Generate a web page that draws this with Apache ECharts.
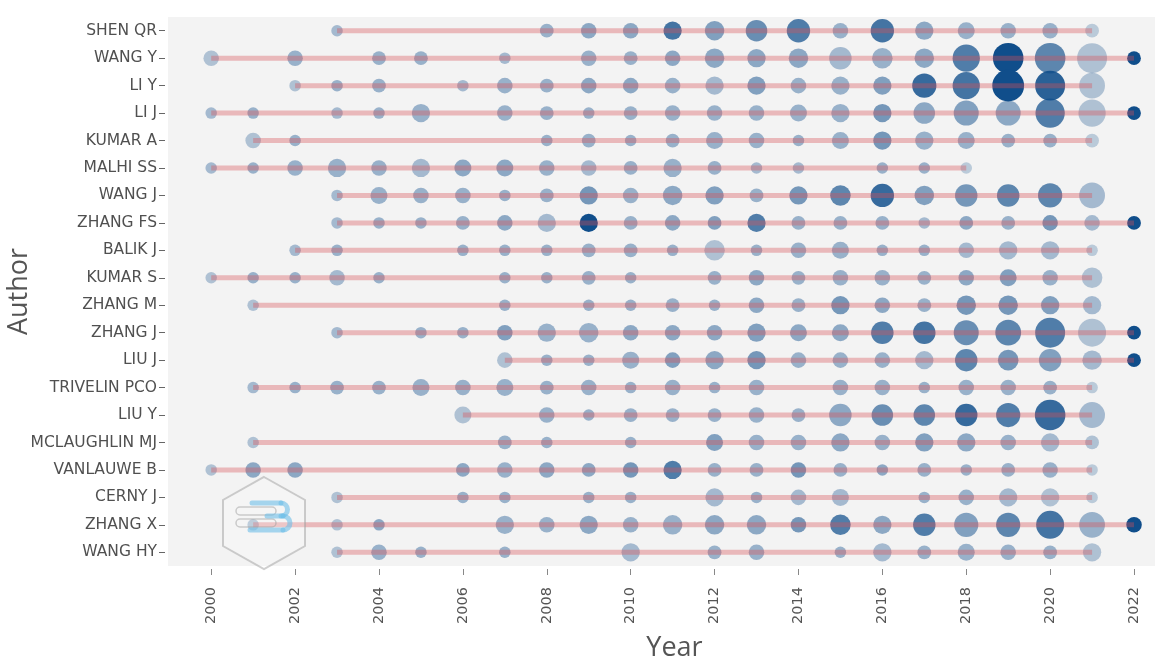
<!DOCTYPE html>
<html>
<head>
<meta charset="utf-8">
<title>Authors' Production over Time</title>
<script src="https://cdn.jsdelivr.net/npm/echarts@6/dist/echarts.min.js"></script>
<style>
  html, body { margin: 0; padding: 0; background: #fff; }
  #chart { width: 1168px; height: 660px; }
</style>
</head>
<body>
<div id="chart"></div>
<script>
// authors, top to bottom
const authors = [
  'SHEN QR', 'WANG Y', 'LI Y', 'LI J', 'KUMAR A', 'MALHI SS', 'WANG J',
  'ZHANG FS', 'BALIK J', 'KUMAR S', 'ZHANG M', 'ZHANG J', 'LIU J',
  'TRIVELIN PCO', 'LIU Y', 'MCLAUGHLIN MJ', 'VANLAUWE B', 'CERNY J',
  'ZHANG X', 'WANG HY'
]

const yearTicks = [2000, 2002, 2004, 2006, 2008, 2010, 2012, 2014, 2016, 2018, 2020, 2022]

// publication years per author (same order as authors)
const pubYears = [
  [2003, 2008, 2009, 2010, 2011, 2012, 2013, 2014, 2015, 2016, 2017, 2018, 2019, 2020, 2021],
  [2000, 2002, 2004, 2005, 2007, 2009, 2010, 2011, 2012, 2013, 2014, 2015, 2016, 2017, 2018, 2019, 2020, 2021, 2022],
  [2002, 2003, 2004, 2006, 2007, 2008, 2009, 2010, 2011, 2012, 2013, 2014, 2015, 2016, 2017, 2018, 2019, 2020, 2021],
  [2000, 2001, 2003, 2004, 2005, 2007, 2008, 2009, 2010, 2011, 2012, 2013, 2014, 2015, 2016, 2017, 2018, 2019, 2020, 2021, 2022],
  [2001, 2002, 2008, 2009, 2010, 2011, 2012, 2013, 2014, 2015, 2016, 2017, 2018, 2019, 2020, 2021],
  [2000, 2001, 2002, 2003, 2004, 2005, 2006, 2007, 2008, 2009, 2010, 2011, 2012, 2013, 2014, 2016, 2017, 2018],
  [2003, 2004, 2005, 2006, 2007, 2008, 2009, 2010, 2011, 2012, 2013, 2014, 2015, 2016, 2017, 2018, 2019, 2020, 2021],
  [2003, 2004, 2005, 2006, 2007, 2008, 2009, 2010, 2011, 2012, 2013, 2014, 2015, 2016, 2017, 2018, 2019, 2020, 2021, 2022],
  [2002, 2003, 2006, 2007, 2008, 2009, 2010, 2011, 2012, 2013, 2014, 2015, 2016, 2017, 2018, 2019, 2020, 2021],
  [2000, 2001, 2002, 2003, 2004, 2007, 2008, 2009, 2010, 2012, 2013, 2014, 2015, 2016, 2017, 2018, 2019, 2020, 2021],
  [2001, 2007, 2009, 2010, 2011, 2012, 2013, 2014, 2015, 2016, 2017, 2018, 2019, 2020, 2021],
  [2003, 2005, 2006, 2007, 2008, 2009, 2010, 2011, 2012, 2013, 2014, 2015, 2016, 2017, 2018, 2019, 2020, 2021, 2022],
  [2007, 2008, 2009, 2010, 2011, 2012, 2013, 2014, 2015, 2016, 2017, 2018, 2019, 2020, 2021, 2022],
  [2001, 2002, 2003, 2004, 2005, 2006, 2007, 2008, 2009, 2010, 2011, 2012, 2013, 2015, 2016, 2017, 2018, 2019, 2020, 2021],
  [2006, 2008, 2009, 2010, 2011, 2012, 2013, 2014, 2015, 2016, 2017, 2018, 2019, 2020, 2021],
  [2001, 2007, 2008, 2010, 2012, 2013, 2014, 2015, 2016, 2017, 2018, 2019, 2020, 2021],
  [2000, 2001, 2002, 2006, 2007, 2008, 2009, 2010, 2011, 2012, 2013, 2014, 2015, 2016, 2017, 2018, 2019, 2020, 2021],
  [2003, 2006, 2007, 2009, 2010, 2012, 2013, 2014, 2015, 2017, 2018, 2019, 2020, 2021],
  [2001, 2003, 2004, 2007, 2008, 2009, 2010, 2011, 2012, 2013, 2014, 2015, 2016, 2017, 2018, 2019, 2020, 2021, 2022],
  [2003, 2004, 2005, 2007, 2010, 2012, 2013, 2015, 2016, 2017, 2018, 2019, 2020, 2021]
]

// number of articles per year (bubble size)
const articles = [
  [1, 2, 3, 3, 5, 6, 8, 10, 3, 10, 5, 4, 3, 3, 2],
  [3, 3, 2, 2, 1, 3, 2, 3, 6, 5, 6, 9, 7, 6, 15, 20, 20, 19, 2],
  [1, 1, 2, 1, 3, 2, 3, 3, 3, 5, 5, 3, 5, 5, 11, 15, 22, 19, 13],
  [1, 1, 1, 1, 5, 3, 2, 1, 2, 3, 3, 3, 4, 5, 5, 8, 12, 12, 18, 15, 2],
  [3, 1, 1, 2, 1, 2, 4, 3, 1, 4, 5, 5, 4, 2, 2, 2],
  [1, 1, 3, 5, 3, 5, 4, 4, 3, 3, 2, 5, 2, 1, 1, 1, 1, 1],
  [1, 4, 3, 3, 1, 2, 5, 3, 6, 5, 2, 5, 7, 10, 6, 9, 9, 11, 13],
  [1, 1, 1, 2, 3, 5, 5, 2, 3, 2, 5, 2, 2, 2, 1, 2, 2, 3, 3, 2],
  [1, 1, 1, 1, 1, 2, 2, 1, 7, 1, 3, 4, 1, 1, 3, 5, 5, 1],
  [1, 1, 1, 3, 1, 1, 1, 2, 1, 2, 3, 2, 3, 3, 2, 3, 4, 3, 7],
  [1, 1, 1, 1, 2, 1, 3, 2, 5, 3, 2, 6, 6, 5, 5],
  [1, 1, 1, 3, 5, 6, 3, 3, 3, 5, 4, 4, 9, 9, 12, 13, 19, 16, 2],
  [3, 1, 1, 4, 3, 5, 5, 3, 3, 3, 5, 9, 7, 9, 6, 2],
  [1, 1, 2, 2, 4, 3, 4, 2, 3, 1, 3, 1, 3, 3, 3, 1, 3, 3, 2, 1],
  [4, 3, 1, 2, 2, 2, 3, 2, 9, 8, 8, 9, 11, 20, 13],
  [1, 2, 1, 1, 4, 3, 3, 5, 3, 5, 5, 3, 5, 2],
  [1, 3, 3, 2, 3, 3, 2, 3, 5, 2, 2, 3, 2, 1, 2, 1, 2, 3, 1],
  [1, 1, 1, 1, 1, 5, 1, 3, 4, 1, 3, 5, 5, 1],
  [1, 1, 1, 5, 3, 5, 3, 6, 6, 6, 3, 7, 5, 9, 11, 11, 16, 13, 3],
  [1, 3, 1, 1, 5, 2, 3, 1, 5, 2, 4, 3, 2, 5]
]

// total citations per year (bubble shade)
const tcPerYear = [
  [4, 4.5, 5, 5, 8, 5.5, 6.5, 7.5, 4.5, 8, 5, 4.5, 4.5, 4.5, 3],
  [3.5, 4.5, 4.5, 4.5, 4, 4.5, 4.5, 5, 5, 5, 5, 4, 4.5, 5, 7.5, 10, 7, 3.5, 10],
  [3.5, 4.5, 4.5, 4, 4.5, 4.5, 5, 5, 4.5, 4, 5.5, 4.5, 4.5, 5.5, 8.5, 8, 10, 9, 3.5],
  [4, 4.5, 4, 4.5, 4.5, 4.5, 4.5, 4.5, 4.5, 4.5, 4.5, 4.5, 4.5, 4.5, 6, 5, 5.5, 5, 7.5, 3.5, 10],
  [3.5, 4.5, 4.5, 4.5, 4.5, 4.5, 4.5, 4.5, 4.5, 4.5, 6, 4.5, 4.5, 4.5, 4.5, 3],
  [4, 4.5, 4.5, 4.5, 4.5, 4, 5, 5, 4.5, 4, 4.5, 4.5, 4.5, 4, 4, 4.5, 4.5, 3],
  [4, 4.5, 4.5, 4.5, 4.5, 4.5, 6, 4.5, 5, 5.5, 4.5, 6, 7, 8.5, 5.5, 6, 7, 7, 4],
  [4, 4.5, 4.5, 4.5, 5, 4, 10, 4.5, 5, 5.5, 7.5, 4.5, 4.5, 4.5, 4, 5, 4.5, 6, 4, 10],
  [4, 4.5, 4.5, 4.5, 4.5, 4.5, 4.5, 4.5, 3.5, 4.5, 4.5, 4.5, 4.5, 4.5, 4, 4, 4, 3],
  [3.5, 4.5, 4.5, 4, 4.5, 4.5, 4.5, 4.5, 4.5, 4.5, 5, 4.5, 4.5, 4.5, 4.5, 5, 5.5, 4.5, 3.5],
  [3.5, 4.5, 4.5, 4.5, 4.5, 4.5, 5, 4.5, 6, 5, 4.5, 6, 6, 5.5, 4],
  [4, 4.5, 4.5, 5.5, 4.5, 4.5, 5, 5, 5, 5.5, 5, 5, 7.5, 8, 6.5, 7, 7.5, 3.5, 10],
  [3.5, 4.5, 4.5, 4.5, 5.5, 5, 6, 4.5, 4.5, 4.5, 4, 7, 6, 5.5, 4, 10],
  [4, 4.5, 4.5, 4.5, 4.5, 4.5, 4.5, 4.5, 4.5, 4.5, 4.5, 4.5, 4.5, 4.5, 4.5, 4.5, 4.5, 4.5, 4.5, 3],
  [3.5, 4.5, 4.5, 4.5, 4.5, 4.5, 4.5, 4.5, 5, 6.5, 7, 8.5, 7.5, 8.5, 4],
  [3.5, 4.5, 4.5, 4.5, 5.5, 4.5, 4.5, 5, 4.5, 5.5, 5, 4.5, 4, 3.5],
  [3.5, 5, 5, 5, 4.5, 5, 5, 6, 7.5, 4.5, 4.5, 6, 4.5, 5, 4.5, 4.5, 4.5, 4.5, 3],
  [3.5, 4.5, 4.5, 4.5, 4.5, 4, 4.5, 4, 4, 4.5, 4.5, 4, 3.5, 3],
  [3.5, 3.5, 5, 4.5, 4.5, 5, 4.5, 4.5, 5, 5, 6, 7.5, 5, 7.5, 5.5, 7, 8, 4.5, 10],
  [3.5, 4.5, 4.5, 4.5, 4, 4.5, 4.5, 4.5, 4, 4.5, 4.5, 4.5, 4.5, 3.5]
]

const chart = echarts.init(document.getElementById('chart'))

const points = []
authors.forEach((name, i) => {
  pubYears[i].forEach((yr, j) => {
    const tc = tcPerYear[i][j]
    points.push({
      value: [yr, name, articles[i][j], tc],
      itemStyle: { opacity: Math.pow(tc / 10, 1.15) }
    })
  })
})

// one faint red segment per author, first to last year
const spans = authors.map((name, i) => {
  const ys = pubYears[i]
  return {
    type: 'line',
    data: [[ys[0], name], [ys[ys.length - 1], name]],
    showSymbol: false,
    silent: true,
    z: 3,
    lineStyle: { color: 'rgba(215, 80, 85, 0.36)', width: 5 }
  }
})

const font = '"Open Sans", "Noto Sans", sans-serif'
const grayStroke = 'rgba(160,160,160,0.5)'
const logoBlue = { fill: 'none', stroke: 'rgba(110,190,232,0.6)', lineWidth: 5, lineCap: 'round' }

chart.setOption({
  animation: false,
  textStyle: { fontFamily: font },
  grid: {
    left: 168,
    right: 13,
    top: 17,
    bottom: 94,
    outerBoundsMode: 'none',
    containLabel: false,
    show: true,
    backgroundColor: '#f3f3f3',
    borderWidth: 0
  },
  xAxis: {
    type: 'value',
    min: 1998.97,
    max: 2022.5,
    offset: 3,
    name: 'Year',
    nameLocation: 'middle',
    nameGap: 66,
    nameMoveOverlap: false,
    nameTextStyle: { fontSize: 27, color: '#555', fontFamily: font, padding: [0, 0, 0, 26] },
    axisLine: { show: false },
    splitLine: { show: false },
    axisTick: {
      show: true,
      length: 6,
      customValues: yearTicks,
      lineStyle: { color: '#888' }
    },
    axisLabel: {
      customValues: yearTicks,
      formatter: v => String(v),
      rotate: 90,
      fontSize: 14.5,
      color: '#555',
      margin: 18,
      fontFamily: '"DejaVu Sans", sans-serif'
    }
  },
  yAxis: {
    type: 'category',
    data: authors,
    inverse: true,
    offset: 3,
    name: 'Author',
    nameLocation: 'middle',
    nameGap: 132,
    nameMoveOverlap: false,
    nameTextStyle: { fontSize: 27, color: '#555', fontFamily: font },
    axisLine: { show: false },
    axisTick: {
      show: true,
      alignWithLabel: true,
      length: 6,
      lineStyle: { color: '#666' }
    },
    axisLabel: { fontSize: 15.5, color: '#505050', margin: 8, fontFamily: '"DejaVu Sans", sans-serif' },
    splitLine: { show: false }
  },
  series: [
    {
      type: 'scatter',
      data: points,
      z: 2,
      symbolSize: val => 6 + 5.5 * Math.sqrt(val[2]),
      itemStyle: { color: '#104E8B' }
    }
  ].concat(spans),
  // faint bibliometrix watermark, bottom left
  graphic: [
    {
      type: 'polygon',
      z: 10,
      silent: true,
      shape: {
        points: [[264, 477], [305, 500], [305, 546], [264, 569], [223, 546], [223, 500]]
      },
      style: { fill: 'rgba(255,255,255,0.2)', stroke: grayStroke, lineWidth: 2 }
    },
    {
      type: 'rect',
      z: 10,
      silent: true,
      shape: { x: 236, y: 507, width: 40, height: 8, r: 4 },
      style: { fill: 'none', stroke: grayStroke, lineWidth: 1.5 }
    },
    {
      type: 'rect',
      z: 10,
      silent: true,
      shape: { x: 236, y: 519, width: 40, height: 8, r: 4 },
      style: { fill: 'none', stroke: grayStroke, lineWidth: 1.5 }
    },
    { type: 'line', z: 11, silent: true, shape: { x1: 252, y1: 503, x2: 281, y2: 503 }, style: logoBlue },
    { type: 'arc', z: 11, silent: true, shape: { cx: 281, cy: 509.5, r: 6.5, startAngle: -Math.PI / 2, endAngle: Math.PI / 2 }, style: logoBlue },
    { type: 'line', z: 11, silent: true, shape: { x1: 267, y1: 516, x2: 283, y2: 516 }, style: logoBlue },
    { type: 'arc', z: 11, silent: true, shape: { cx: 283, cy: 523, r: 7, startAngle: -Math.PI / 2, endAngle: Math.PI / 2 }, style: logoBlue },
    { type: 'line', z: 11, silent: true, shape: { x1: 283, y1: 530, x2: 250, y2: 530 }, style: logoBlue }
  ]
})
</script>
</body>
</html>
